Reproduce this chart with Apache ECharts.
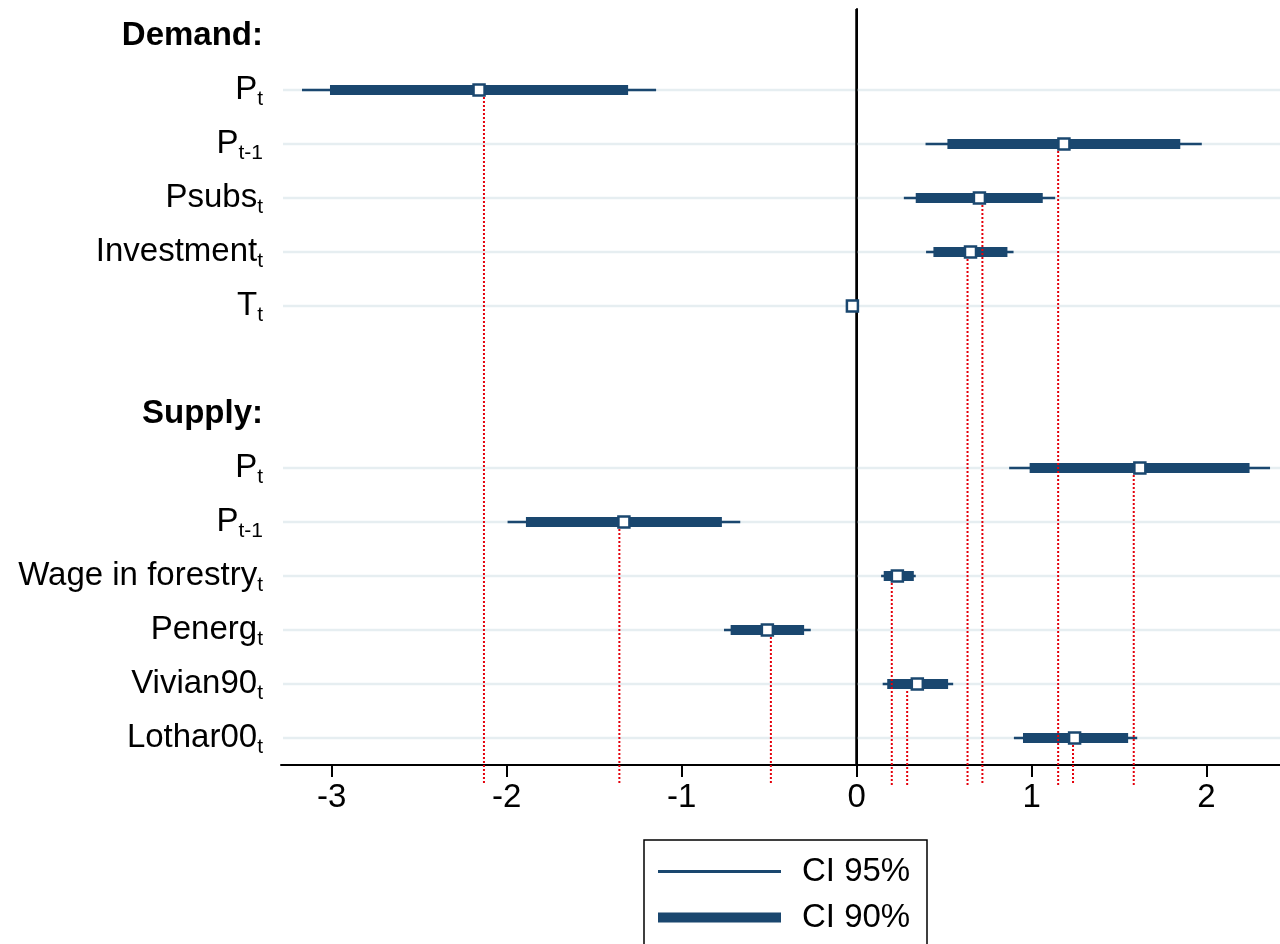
<!DOCTYPE html>
<html>
<head>
<meta charset="utf-8">
<title>Coefficient plot</title>
<script src="https://cdn.jsdelivr.net/npm/echarts@6/dist/echarts.min.js"></script>
<style>
  html, body { margin: 0; padding: 0; background: #fff; }
  #chart { width: 1280px; height: 944px; }
</style>
</head>
<body>
<div id="chart"></div>
<script>
// rows from top to bottom: [main text, subscript]; header rows have no subscript
var rowKeys = ['hd', 'd_p', 'd_p1', 'd_psubs', 'd_inv', 'd_t', 'gap', 'hs', 's_p', 's_p1', 's_wage', 's_penerg', 's_viv', 's_loth'];
var rowLabels = [
  ['Demand:', ''], ['P', 't'], ['P', 't-1'], ['Psubs', 't'], ['Investment', 't'], ['T', 't'],
  ['', ''], ['Supply:', ''], ['P', 't'], ['P', 't-1'], ['Wage in forestry', 't'],
  ['Penerg', 't'], ['Vivian90', 't'], ['Lothar00', 't']
];

// point estimates and confidence bounds (null = no coefficient on that row)
var estimate = [null, -2.158, 1.185, 0.702, 0.651, -0.024, null, null, 1.619, -1.33, 0.233, -0.51, 0.347, 1.246];
var lo95 = [null, -3.17, 0.394, 0.27, 0.397, -0.03, null, null, 0.872, -1.995, 0.14, -0.758, 0.149, 0.899];
var hi95 = [null, -1.146, 1.973, 1.135, 0.897, -0.018, null, null, 2.363, -0.665, 0.338, -0.262, 0.552, 1.604];
var lo90 = [null, -3.01, 0.519, 0.338, 0.439, -0.029, null, null, 0.989, -1.89, 0.155, -0.72, 0.175, 0.951];
var hi90 = [null, -1.306, 1.85, 1.064, 0.862, -0.019, null, null, 2.246, -0.77, 0.327, -0.30, 0.523, 1.552];
// red dotted reference values
var refValue = [null, -2.13, 1.152, 0.719, 0.634, null, null, null, 1.584, -1.356, 0.201, -0.49, 0.289, 1.237];

var xTicks = [-3, -2, -1, 0, 1, 2];

var navy = '#1a476f';
var font = '"Liberation Sans", Arial, Helvetica, sans-serif';

function rowsWith(fn) {
  var out = [];
  for (var i = 0; i < rowKeys.length; i++) {
    var v = fn(i);
    if (v) out.push(v);
  }
  return out;
}

var gridData = rowsWith(function (i) { return estimate[i] !== null ? [0, i] : null; });
var ci95Data = rowsWith(function (i) { return lo95[i] !== null ? [lo95[i], hi95[i], i] : null; });
var ci90Data = rowsWith(function (i) { return lo90[i] !== null ? [lo90[i], hi90[i], i] : null; });
var refData = rowsWith(function (i) { return refValue[i] !== null ? [refValue[i], i] : null; });
var pointData = rowsWith(function (i) { return estimate[i] !== null ? [estimate[i], i] : null; });

function rangeLine(width) {
  return function (params, api) {
    var a = api.coord([api.value(0), api.value(2)]);
    var b = api.coord([api.value(1), api.value(2)]);
    return {
      type: 'line',
      shape: { x1: a[0], y1: a[1], x2: b[0], y2: b[1] },
      style: { stroke: navy, lineWidth: width, lineCap: 'butt' }
    };
  };
}

var chart = echarts.init(document.getElementById('chart'));

var option = {
  backgroundColor: '#fff',
  animation: false,
  textStyle: { fontFamily: font },
  grid: { left: 281, right: 0, top: 9, bottom: 179, containLabel: false },
  xAxis: {
    type: 'value',
    min: -3.29,
    max: 2.42,
    axisLine: { show: true, onZero: false, lineStyle: { color: '#000', width: 2 } },
    axisTick: { show: true, customValues: xTicks, length: 12, lineStyle: { color: '#000', width: 2 } },
    axisLabel: { customValues: xTicks, margin: 16, fontSize: 33, color: '#000', fontFamily: font },
    splitLine: { show: false }
  },
  yAxis: {
    type: 'category',
    inverse: true,
    data: rowKeys,
    axisLine: { show: true, lineStyle: { color: '#000', width: 2 } },
    axisTick: {
      show: true,
      alignWithLabel: true,
      length: 13,
      interval: function (i) { return estimate[i] !== null; },
      lineStyle: { color: '#000', width: 2 }
    },
    axisLabel: {
      interval: 0,
      margin: 18,
      color: '#000',
      formatter: function (v, i) {
        var l = rowLabels[i];
        if (!l[0]) return '';
        if (!l[1]) return '{h|' + l[0] + '}';
        return '{m|' + l[0] + '}{s|' + l[1] + '}';
      },
      rich: {
        h: { fontSize: 33, fontWeight: 'bold', fontFamily: font, color: '#000', lineHeight: 40 },
        m: { fontSize: 33, fontFamily: font, color: '#000', lineHeight: 40 },
        s: { fontSize: 21, fontFamily: font, color: '#000', lineHeight: 22, verticalAlign: 'bottom' }
      }
    },
    splitLine: { show: false }
  },
  legend: [
    {
      left: 658, top: 855, padding: 0, itemWidth: 123, itemHeight: 3,
      data: [{ name: 'CI 95%', icon: 'rect', itemStyle: { color: navy } }],
      textStyle: { fontSize: 33, color: '#000', fontFamily: font, lineHeight: 32, padding: [0, 0, 0, 16] },
      selectedMode: false
    },
    {
      left: 658, top: 901, padding: 0, itemWidth: 123, itemHeight: 10,
      data: [{ name: 'CI 90%', icon: 'rect', itemStyle: { color: navy } }],
      textStyle: { fontSize: 33, color: '#000', fontFamily: font, lineHeight: 32, padding: [0, 0, 0, 16] },
      selectedMode: false
    }
  ],
  graphic: [
    {
      type: 'rect',
      shape: { x: 644, y: 840, width: 283, height: 110 },
      style: { fill: 'none', stroke: '#000', lineWidth: 1.5 },
      silent: true
    }
  ],
  series: [
    {
      type: 'custom',
      name: 'rows',
      silent: true,
      z: 1,
      data: gridData,
      encode: { x: 0, y: 1 },
      renderItem: function (params, api) {
        var p = api.coord([0, api.value(1)]);
        var cs = params.coordSys;
        return {
          type: 'line',
          shape: { x1: cs.x + 2, y1: p[1], x2: cs.x + cs.width, y2: p[1] },
          style: { stroke: '#e6eef1', lineWidth: 2.5 }
        };
      }
    },
    {
      type: 'custom',
      name: 'CI 95%',
      z: 3,
      itemStyle: { color: navy },
      data: ci95Data,
      encode: { x: [0, 1], y: 2 },
      renderItem: rangeLine(2.5)
    },
    {
      type: 'custom',
      name: 'CI 90%',
      z: 4,
      itemStyle: { color: navy },
      data: ci90Data,
      encode: { x: [0, 1], y: 2 },
      renderItem: rangeLine(10)
    },
    {
      type: 'custom',
      name: 'reference',
      silent: true,
      clip: false,
      z: 5,
      data: refData,
      encode: { x: 0, y: 1 },
      renderItem: function (params, api) {
        var p = api.coord([api.value(0), api.value(1)]);
        var cs = params.coordSys;
        return {
          type: 'line',
          shape: { x1: p[0], y1: p[1] + 7, x2: p[0], y2: cs.y + cs.height + 20 },
          style: { stroke: '#e4000b', lineWidth: 2, lineDash: [2, 2] }
        };
      }
    },
    {
      type: 'scatter',
      name: 'estimate',
      z: 6,
      symbol: 'rect',
      symbolSize: 11,
      itemStyle: { color: '#fff', borderColor: navy, borderWidth: 2.5, opacity: 1 },
      data: pointData,
      markLine: {
        silent: true,
        symbol: ['none', 'none'],
        label: { show: false },
        lineStyle: { color: '#000', width: 2.5, type: 'solid' },
        data: [{ xAxis: 0 }]
      }
    }
  ]
};

chart.setOption(option);
</script>
</body>
</html>
